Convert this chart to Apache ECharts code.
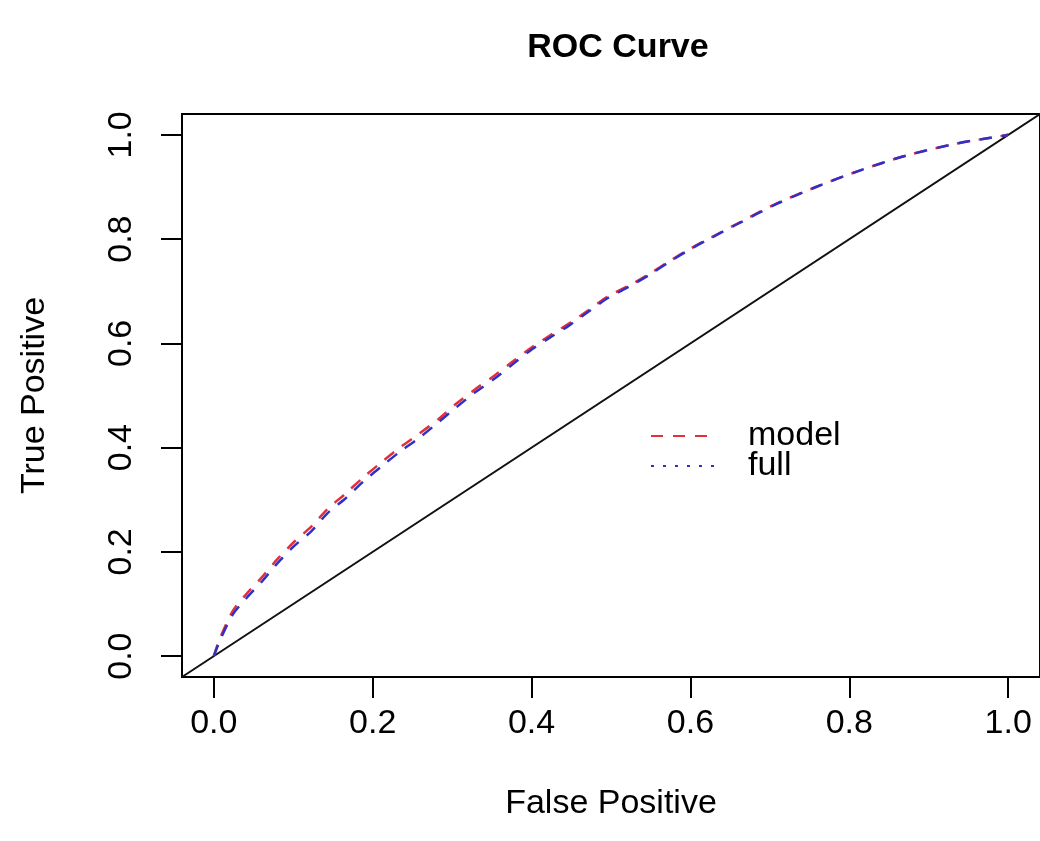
<!DOCTYPE html>
<html>
<head>
<meta charset="utf-8">
<script src="https://cdn.jsdelivr.net/npm/echarts@6/dist/echarts.min.js"></script>
<style>
html,body{margin:0;padding:0;background:#fff;}
#chart{width:1040px;height:841px;}
</style>
</head>
<body>
<div id="chart"></div>
<script>
// ---- data ----
const titleText = 'ROC Curve';
const xAxisTitle = 'False Positive';
const yAxisTitle = 'True Positive';
const tickValues = [0, 0.2, 0.4, 0.6, 0.8, 1.0];
const axisMin = -0.04;
const axisMax = 1.04;

const fpr = [0, 0.008, 0.024, 0.041, 0.061, 0.080, 0.101, 0.123, 0.143, 0.166, 0.189, 0.212, 0.235, 0.258, 0.283, 0.305, 0.329, 0.354, 0.377, 0.399, 0.424, 0.448, 0.471, 0.496, 0.523, 0.549, 0.574, 0.599, 0.627, 0.658, 0.708, 0.758, 0.812, 0.871, 0.934, 0.992, 1.0];
const tprModel = [0, 0.035, 0.087, 0.119, 0.152, 0.186, 0.219, 0.249, 0.282, 0.312, 0.344, 0.373, 0.401, 0.426, 0.455, 0.484, 0.512, 0.539, 0.566, 0.591, 0.616, 0.639, 0.663, 0.690, 0.711, 0.734, 0.758, 0.781, 0.804, 0.829, 0.868, 0.900, 0.931, 0.960, 0.983, 0.998, 1.0];
const tprFull = [0, 0.031, 0.080, 0.111, 0.144, 0.178, 0.211, 0.240, 0.274, 0.303, 0.336, 0.365, 0.393, 0.418, 0.449, 0.477, 0.506, 0.533, 0.561, 0.587, 0.612, 0.635, 0.660, 0.687, 0.709, 0.732, 0.757, 0.780, 0.803, 0.828, 0.867, 0.900, 0.931, 0.960, 0.983, 0.998, 1.0];
const diagonalX = [axisMin, axisMax];
const diagonalY = [axisMin, axisMax];
const seriesNames = ['model', 'full'];

// ---- chart ----
const FONT = '"Liberation Sans", Arial, Helvetica, sans-serif';
const zip = (a, b) => a.map((v, i) => [v, b[i]]);
const chart = echarts.init(document.getElementById('chart'), null, {renderer: 'canvas'});

const axisCommon = {
  type: 'value',
  min: axisMin,
  max: axisMax,
  splitLine: {show: false},
  axisLine: {show: true, onZero: false, lineStyle: {color: '#000', width: 2}},
  axisTick: {show: true, inside: false, length: 21, customValues: tickValues, lineStyle: {color: '#000', width: 2}},
  axisLabel: {
    customValues: tickValues,
    color: '#000',
    fontFamily: FONT,
    fontSize: 34,
    formatter: v => v.toFixed(1)
  },
  nameLocation: 'middle',
  nameTextStyle: {color: '#000', fontFamily: FONT, fontSize: 34}
};

chart.setOption({
  animation: false,
  backgroundColor: '#fff',
  title: {
    text: titleText,
    left: 613,
    top: 26,
    textAlign: 'center',
    textStyle: {fontFamily: FONT, fontSize: 34, fontWeight: 'bold', color: '#000'}
  },
  grid: {
    left: 182, top: 114, width: 863, height: 563,
    show: true, borderColor: '#000', borderWidth: 2, backgroundColor: 'transparent',
    containLabel: false
  },
  legend: {
    show: true,
    orient: 'vertical',
    left: 645,
    top: 414,
    itemWidth: 63,
    itemHeight: 14,
    itemGap: -4,
    itemStyle: {opacity: 0, borderWidth: 0},
    data: [
      {name: seriesNames[0]},
      {name: seriesNames[1], lineStyle: {type: [3, 9]}}
    ],
    textStyle: {fontFamily: FONT, fontSize: 34, color: '#000', lineHeight: 26, padding: [0, 0, 0, 29]}
  },
  xAxis: Object.assign({}, axisCommon, {
    name: xAxisTitle,
    nameGap: 110,
    axisLabel: Object.assign({}, axisCommon.axisLabel, {margin: 30})
  }),
  yAxis: Object.assign({}, axisCommon, {
    name: yAxisTitle,
    nameGap: 130,
    axisLabel: Object.assign({}, axisCommon.axisLabel, {rotate: 90, margin: 43})
  }),
  series: [
    {
      name: 'diagonal',
      type: 'line',
      data: zip(diagonalX, diagonalY),
      symbol: 'none',
      lineStyle: {color: '#111', width: 2},
      silent: true,
      z: 2
    },
    {
      name: seriesNames[0],
      type: 'line',
      data: zip(fpr, tprModel),
      symbol: 'none',
      smooth: 0.3,
      color: '#e0303c',
      lineStyle: {color: '#e0303c', width: 2.5, type: [12, 10]},
      z: 3
    },
    {
      name: seriesNames[1],
      type: 'line',
      data: zip(fpr, tprFull),
      symbol: 'none',
      smooth: 0.3,
      color: '#3030c8',
      lineStyle: {color: '#3030c8', width: 2.5, type: [12, 10]},
      z: 4
    }
  ]
});
</script>
</body>
</html>
